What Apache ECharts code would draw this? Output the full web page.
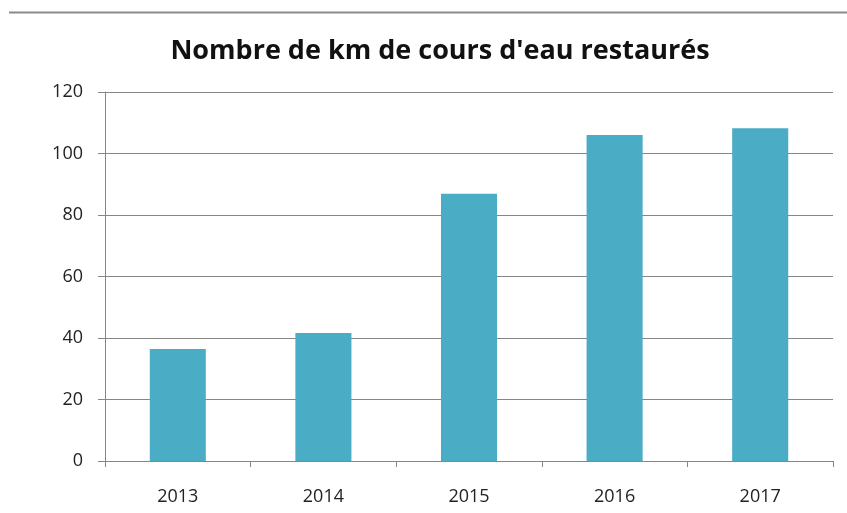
<!DOCTYPE html>
<html>
<head>
<meta charset="utf-8">
<script src="https://cdn.jsdelivr.net/npm/echarts@6/dist/echarts.min.js"></script>
<style>
    html, body { margin: 0; padding: 0; background: #fff; }
    #chartFrame { width: 847px; height: 513px; }
</style>
</head>
<body>
<div id="chartFrame"></div>
<script>
// données
var years = ["2013", "2014", "2015", "2016", "2017"];
var kmRestored = [36.4, 41.6, 86.9, 106, 108.2];
var yTicks = [0, 20, 40, 60, 80, 100, 120];

var gridColor = "#868686";
var labelFont = "'Open Sans', 'DejaVu Sans', sans-serif";

var option = {
    animation: false,
    backgroundColor: "#fff",
    title: {
        text: "Nombre de km de cours d'eau restaurés",
        left: 435,
        top: 33,
        textAlign: "center",
        textStyle: {
            fontFamily: labelFont,
            fontSize: 27,
            fontWeight: "bold",
            color: "#111"
        }
    },
    graphic: [
        {
            type: "line",
            shape: { x1: 9, y1: 12.5, x2: 847, y2: 12.5 },
            style: { stroke: "#8a8a8a", lineWidth: 2 }
        }
    ],
    grid: {
        left: 105,
        right: 14,
        top: 92,
        bottom: 52,
        containLabel: false
    },
    xAxis: {
        type: "category",
        data: years,
        axisLine: { lineStyle: { color: gridColor, width: 1 } },
        axisTick: { show: true, length: 6, lineStyle: { color: gridColor } },
        axisLabel: {
            fontFamily: labelFont,
            fontSize: 18,
            color: "#222",
            margin: 27
        }
    },
    yAxis: {
        type: "value",
        min: yTicks[0],
        max: yTicks[yTicks.length - 1],
        interval: 20,
        axisLine: { show: true, lineStyle: { color: gridColor, width: 1 } },
        axisTick: { show: true, length: 7, lineStyle: { color: gridColor } },
        axisLabel: {
            fontFamily: labelFont,
            fontSize: 18,
            color: "#222",
            margin: 22
        },
        splitLine: { lineStyle: { color: gridColor, width: 1 } }
    },
    series: [
        {
            type: "bar",
            data: kmRestored,
            barWidth: "38.5%",
            itemStyle: { color: "#4bacc6" }
        }
    ]
};

var myChart = echarts.init(document.getElementById("chartFrame"));
myChart.setOption(option, true);
</script>
</body>
</html>
